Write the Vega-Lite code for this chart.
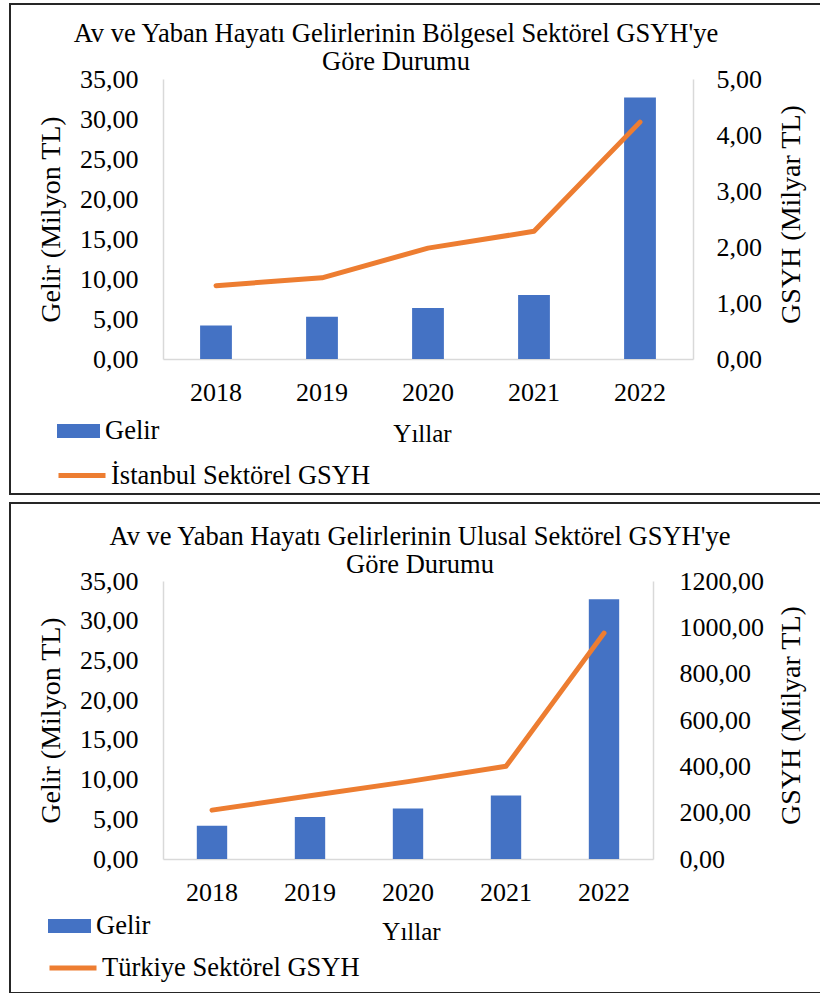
{
  "$schema": "https://vega.github.io/schema/vega-lite/v6.json",
  "padding": {"left": 9, "top": 3, "right": 0, "bottom": 0},
  "spacing": 9,
  "bounds": "flush",
  "datasets": {
    "bolgesel": [
      {"Yil": "2018", "Gelir": 4.2, "GSYH": 1.31},
      {"Yil": "2019", "Gelir": 5.28, "GSYH": 1.45},
      {"Yil": "2020", "Gelir": 6.37, "GSYH": 1.98},
      {"Yil": "2021", "Gelir": 8.01, "GSYH": 2.28},
      {"Yil": "2022", "Gelir": 32.7, "GSYH": 4.23}
    ],
    "ulusal": [
      {"Yil": "2018", "Gelir": 4.2, "GSYH": 211},
      {"Yil": "2019", "Gelir": 5.28, "GSYH": 273},
      {"Yil": "2020", "Gelir": 6.37, "GSYH": 334},
      {"Yil": "2021", "Gelir": 8.01, "GSYH": 400},
      {"Yil": "2022", "Gelir": 32.7, "GSYH": 975}
    ]
  },
  "vconcat": [
    {
      "width": 816,
      "height": 490,
      "title": {
        "text": ["Av ve Yaban Hayatı Gelirlerinin Bölgesel Sektörel GSYH'ye", "Göre Durumu"],
        "anchor": "middle",
        "frame": "group",
        "offset": -71,
        "baseline": "top",
        "dx": -22
      },
      "data": {"name": "bolgesel"},
      "layer": [
        {
          "mark": {"type": "bar"},
          "encoding": {
            "x": {
              "field": "Yil", "type": "ordinal",
              "scale": {"range": [153, 683], "paddingInner": 0.7, "paddingOuter": 0.35},
              "axis": {"title": "Yıllar", "offset": -135, "labelPadding": 20, "titleX": 412, "titleY": 74}
            },
            "y": {
              "field": "Gelir", "type": "quantitative",
              "scale": {"domain": [0, 35], "range": [355, 75], "nice": false},
              "axis": {"orient": "left", "offset": -153, "format": ".2f", "values": [0, 5, 10, 15, 20, 25, 30, 35], "labelPadding": 25, "title": "Gelir (Milyon TL)", "titleX": -112, "titleY": 215}
            },
            "fill": {
              "datum": "Gelir", "type": "nominal",
              "scale": {"domain": ["Gelir"], "range": ["#4472C4"]},
              "legend": {"orient": "none", "legendX": 47, "legendY": 405.5, "symbolType": "M-1,-0.326H1V0.326H-1Z", "symbolSize": 1849, "labelOffset": 5, "symbolStrokeWidth": 0}
            }
          }
        },
        {
          "mark": {"type": "line", "strokeWidth": 5, "strokeCap": "round", "strokeJoin": "round"},
          "encoding": {
            "x": {"field": "Yil", "type": "ordinal"},
            "y": {
              "field": "GSYH", "type": "quantitative",
              "scale": {"domain": [0, 5], "range": [355, 75], "nice": false},
              "axis": {"orient": "right", "offset": -133, "format": ".2f", "values": [0, 1, 2, 3, 4, 5], "labelPadding": 23, "title": "GSYH (Milyar TL)", "titleX": 98, "titleY": 210}
            },
            "stroke": {
              "datum": "İstanbul Sektörel GSYH", "type": "nominal",
              "scale": {"domain": ["İstanbul Sektörel GSYH"], "range": ["#ED7D31"]},
              "legend": {"orient": "none", "legendX": 46, "legendY": 445.5, "symbolType": "stroke", "symbolSize": 2209, "symbolStrokeWidth": 5, "labelOffset": 3}
            }
          }
        }
      ],
      "resolve": {"scale": {"y": "independent"}, "axis": {"y": "independent"}}
    },
    {
      "width": 816,
      "height": 490,
      "title": {
        "text": ["Av ve Yaban Hayatı Gelirlerinin Ulusal Sektörel GSYH'ye", "Göre Durumu"],
        "anchor": "middle",
        "frame": "group",
        "offset": -75,
        "baseline": "top",
        "dx": 2
      },
      "data": {"name": "ulusal"},
      "layer": [
        {
          "mark": {"type": "bar"},
          "encoding": {
            "x": {
              "field": "Yil", "type": "ordinal",
              "scale": {"range": [153, 643], "paddingInner": 0.69, "paddingOuter": 0.345},
              "axis": {"title": "Yıllar", "offset": -134, "labelPadding": 20, "titleX": 401, "titleY": 72}
            },
            "y": {
              "field": "Gelir", "type": "quantitative",
              "scale": {"domain": [0, 35], "range": [356, 78], "nice": false},
              "axis": {"orient": "left", "offset": -153, "format": ".2f", "values": [0, 5, 10, 15, 20, 25, 30, 35], "labelPadding": 25, "title": "Gelir (Milyon TL)", "titleX": -112, "titleY": 217}
            },
            "fill": {
              "datum": "Gelir", "type": "nominal",
              "scale": {"domain": ["Gelir"], "range": ["#4472C4"]},
              "legend": {"orient": "none", "legendX": 38, "legendY": 401.5, "symbolType": "M-1,-0.326H1V0.326H-1Z", "symbolSize": 1849, "labelOffset": 5, "symbolStrokeWidth": 0}
            }
          }
        },
        {
          "mark": {"type": "line", "strokeWidth": 5, "strokeCap": "round", "strokeJoin": "round"},
          "encoding": {
            "x": {"field": "Yil", "type": "ordinal"},
            "y": {
              "field": "GSYH", "type": "quantitative",
              "scale": {"domain": [0, 1200], "range": [356, 78], "nice": false},
              "axis": {"orient": "right", "offset": -173, "format": ".2f", "values": [0, 200, 400, 600, 800, 1000, 1200], "labelPadding": 26, "title": "GSYH (Milyar TL)", "titleX": 138, "titleY": 212}
            },
            "stroke": {
              "datum": "Türkiye Sektörel GSYH", "type": "nominal",
              "scale": {"domain": ["Türkiye Sektörel GSYH"], "range": ["#ED7D31"]},
              "legend": {"orient": "none", "legendX": 37, "legendY": 439, "symbolType": "stroke", "symbolSize": 2209, "symbolStrokeWidth": 5, "labelOffset": 3}
            }
          }
        }
      ],
      "resolve": {"scale": {"y": "independent"}, "axis": {"y": "independent"}}
    }
  ],
  "resolve": {
    "scale": {"x": "independent", "y": "independent", "fill": "independent", "stroke": "independent"},
    "axis": {"x": "independent", "y": "independent"},
    "legend": {"fill": "independent", "stroke": "independent"}
  },
  "config": {
    "locale": {"number": {"decimal": ",", "thousands": ".", "grouping": [3], "currency": ["", ""]}},
    "view": {"stroke": "#262626", "strokeWidth": 2},
    "axis": {
      "domainColor": "#D9D9D9",
      "domainWidth": 1.5,
      "ticks": false,
      "grid": false,
      "labelFont": "Liberation Serif",
      "labelFontSize": 26,
      "labelColor": "#000000",
      "titleFont": "Liberation Serif",
      "titleFontSize": 28,
      "titleFontWeight": "normal",
      "titleColor": "#000000",
      "titleBaseline": "middle",
      "titleAlign": "center"
    },
    "axisX": {"labelAngle": 0, "titleAngle": 0, "titleFontSize": 25},
    "axisY": {"titleAngle": 270},
    "legend": {
      "labelFont": "Liberation Serif",
      "labelFontSize": 26.5,
      "labelColor": "#000000",
      "labelLimit": 600,
      "padding": 0,
      "offset": 0,
      "title": null
    },
    "title": {
      "font": "Liberation Serif",
      "fontSize": 26.5,
      "fontWeight": "normal",
      "color": "#000000",
      "lineHeight": 28
    }
  }
}
